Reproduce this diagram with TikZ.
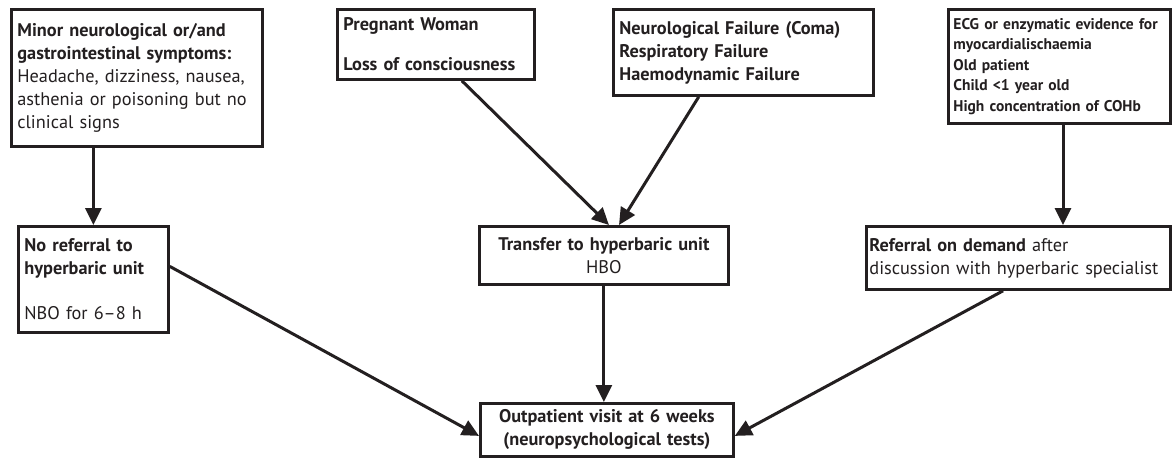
\documentclass[tikz,border=0pt]{standalone}
\usepackage{fontspec}
\setmainfont{PT Sans}
\usetikzlibrary{arrows.meta, calc}
\definecolor{ink}{RGB}{35,31,32}

\begin{document}
\begin{tikzpicture}[x=1pt, y=-1pt,
  box/.style={draw=ink, line width=2.8pt, anchor=north west, align=left,
    inner xsep=6pt, inner ysep=0pt, text=ink, font=\fontsize{18.3}{23}\selectfont},
  link/.style={draw=ink, line width=3pt, -{Triangle[length=17pt,width=16pt]}}]
\useasboundingbox (0,0) rectangle (1172,460);

% top row
\node[box, text width=239pt, minimum height=137pt] (minor) at (10,8)
  {\textbf{Minor neurological or/and}\\ \textbf{gastrointestinal symptoms:}\\
   Headache, dizziness, nausea,\\ asthenia or poisoning but no\\ clinical signs};
\node[box, text width=185pt, minimum height=70pt] (pregnant) at (336,8)
  {\textbf{Pregnant Woman}\\[17pt] \textbf{Loss of consciousness}};
\node[box, text width=248pt, minimum height=86pt] (failure) at (612,8)
  {\textbf{Neurological Failure (Coma)}\\ \textbf{Respiratory Failure}\\ \textbf{Haemodynamic Failure}};
\node[box, text width=212pt, inner xsep=5pt, minimum height=114pt, font=\fontsize{15.5}{20.5}\selectfont] (ecg) at (947,8)
  {\textbf{ECG or enzymatic evidence for}\\ \textbf{myocardialischaemia}\\ \textbf{Old patient}\\
   \textbf{Child <1 year old}\\ \textbf{High concentration of COHb}};

% middle row
\node[box, text width=138pt, minimum height=106pt] (noref) at (17,225)
  {\textbf{No referral to}\\ \textbf{hyperbaric unit}\\[22pt] NBO for 6--8 h};
\node[box, text width=237pt, minimum height=58pt, align=center] (transfer) at (478,225)
  {\textbf{Transfer to hyperbaric unit}\\ HBO};
\node[box, text width=298pt, minimum height=63pt, inner xsep=3pt] (demand) at (865,225)
  {\textbf{Referral on demand} after\\ discussion with hyperbaric specialist};

% bottom
\node[box, text width=241pt, minimum height=53pt, align=center] (visit) at (479,402)
  {\textbf{Outpatient visit at 6 weeks}\\ \textbf{(neuropsychological tests)}};

\draw[link] (noref.north |- minor.south) -- (noref.north);
\draw[link] ($(pregnant.south west)!0.63!(pregnant.south east)$) -- ($(transfer.north west)!0.52!(transfer.north east)$);
\draw[link] ($(failure.south west)!0.33!(failure.south east)$) -- ($(transfer.north west)!0.56!(transfer.north east)$);
\draw[link] (ecg.south -| 1063,0) -- (demand.north -| 1063,0);
\draw[link] (transfer.south) -- (transfer.south |- visit.north);
\draw[link] ([yshift=13pt]noref.east) -- ([yshift=-6pt]visit.west);
\draw[link] ($(demand.south west)!0.45!(demand.south east)$) -- ([yshift=-6pt]visit.east);
\end{tikzpicture}
\end{document}
